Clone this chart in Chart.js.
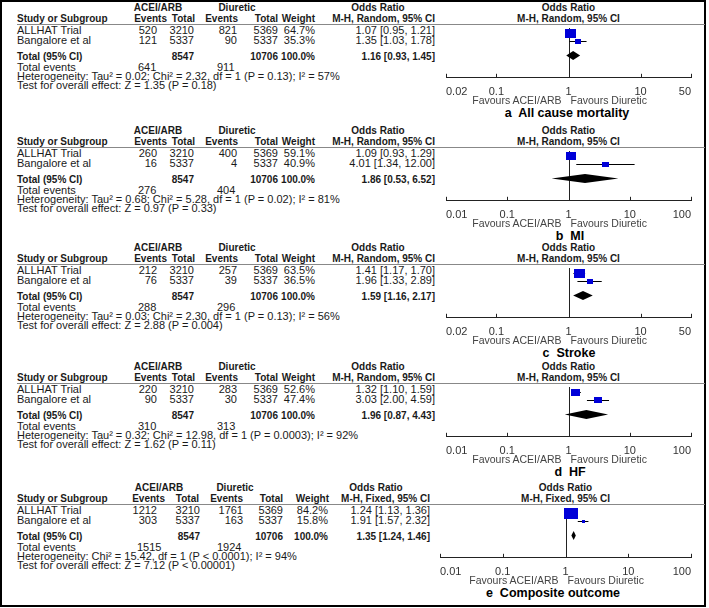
<!DOCTYPE html>
<html><head><meta charset="utf-8">
<script src="https://cdn.jsdelivr.net/npm/chart.js@4.4.1/dist/chart.umd.min.js"></script>
<style>
html,body{margin:0;padding:0;background:#fff;}
#root{position:relative;width:709px;height:608px;overflow:hidden;font-family:"Liberation Sans",Arial,sans-serif;color:#1a1a1a;}
#frame{position:absolute;left:0;top:0;width:706px;height:607px;box-sizing:border-box;border:2px solid #000;}
.t{position:absolute;white-space:pre;line-height:12px;height:12px;font-size:11px;}
.b{font-weight:bold;font-size:10px;}
.ttl{font-weight:bold;font-size:12.5px;color:#000;line-height:16px;height:16px;}
.fav{font-size:10.5px;color:#444;}
.sep{position:absolute;height:1px;background:#888;}
canvas{position:absolute;}
</style></head><body><div id="root"><div id="frame"></div></div>
<script>
// ---------- data ----------
const studies = ['ALLHAT Trial', 'Bangalore et al'];
const panelTitles = ['a  All cause mortality', 'b  MI', 'c  Stroke', 'd  HF', 'e  Composite outcome'];
const methods = ['M-H, Random, 95% CI', 'M-H, Random, 95% CI', 'M-H, Random, 95% CI', 'M-H, Random, 95% CI', 'M-H, Fixed, 95% CI'];
const acEvents = [[520, 121], [260, 16], [212, 76], [220, 90], [1212, 303]];
const acTotal = [[3210, 5337], [3210, 5337], [3210, 5337], [3210, 5337], [3210, 5337]];
const diEvents = [[821, 90], [400, 4], [257, 39], [283, 30], [1761, 163]];
const diTotal = [[5369, 5337], [5369, 5337], [5369, 5337], [5369, 5337], [5369, 5337]];
const weights = [[64.7, 35.3], [59.1, 40.9], [63.5, 36.5], [52.6, 47.4], [84.2, 15.8]];
const oddsRatio = [[1.07, 1.35], [1.09, 4.01], [1.41, 1.96], [1.32, 3.03], [1.24, 1.91]];
const ciLow = [[0.95, 1.03], [0.93, 1.34], [1.17, 1.33], [1.10, 2.00], [1.13, 1.57]];
const ciHigh = [[1.21, 1.78], [1.29, 12.00], [1.70, 2.89], [1.59, 4.59], [1.36, 2.32]];
const pooledOR = [1.16, 1.86, 1.59, 1.96, 1.35];
const pooledLow = [0.93, 0.53, 1.16, 0.87, 1.24];
const pooledHigh = [1.45, 6.52, 2.17, 4.43, 1.46];
const sumAcTotal = [8547, 8547, 8547, 8547, 8547];
const sumDiTotal = [10706, 10706, 10706, 10706, 10706];
const totalAcEvents = [641, 276, 288, 310, 1515];
const totalDiEvents = [911, 404, 296, 313, 1924];
const heterogeneity = [
  'Heterogeneity: Tau² = 0.02; Chi² = 2.32, df = 1 (P = 0.13); I² = 57%',
  'Heterogeneity: Tau² = 0.68; Chi² = 5.28, df = 1 (P = 0.02); I² = 81%',
  'Heterogeneity: Tau² = 0.03; Chi² = 2.30, df = 1 (P = 0.13); I² = 56%',
  'Heterogeneity: Tau² = 0.32; Chi² = 12.98, df = 1 (P = 0.0003); I² = 92%',
  'Heterogeneity: Chi² = 15.42, df = 1 (P < 0.0001); I² = 94%'
];
const overallTest = [
  'Test for overall effect: Z = 1.35 (P = 0.18)',
  'Test for overall effect: Z = 0.97 (P = 0.33)',
  'Test for overall effect: Z = 2.88 (P = 0.004)',
  'Test for overall effect: Z = 1.62 (P = 0.11)',
  'Test for overall effect: Z = 7.12 (P < 0.00001)'
];
const tickValues = [[0.02, 0.1, 1, 10, 50], [0.01, 0.1, 1, 10, 100], [0.02, 0.1, 1, 10, 50], [0.01, 0.1, 1, 10, 100], [0.01, 0.1, 1, 10, 100]];
const tickLabels = [['0.02', '0.1', '1', '10', '50'], ['0.01', '0.1', '1', '10', '100'], ['0.02', '0.1', '1', '10', '50'], ['0.01', '0.1', '1', '10', '100'], ['0.01', '0.1', '1', '10', '100']];
const favourLabels = ['Favours ACEI/ARB', 'Favours Diuretic'];

// ---------- layout ----------
const panelTop = [8, 131, 248, 367, 488];
const axisLeft = [446, 446, 446, 446, 440];
const axisRight = 691;
const titleCenter = [567, 570, 569, 570, 553];
const colsStd = {evA:157, totA:194, evD:237, totD:278, wt:315, or:435, hEvA:167, hTotA:195, hEvD:238, hTotD:278, hWt:315, grpA:158, grpD:237, grpOR:378, teA:138, teD:217};
const colsE = {evA:157, totA:200, evD:243, totD:283, wt:328, or:430, hEvA:165, hTotA:199, hEvD:243, hTotD:283, hWt:329, grpA:159, grpD:235, grpOR:376, teA:137, teD:217};
const rowY = [1, 2];
const pooledRow = 3.75;
const blue = '#0000d8';

const root = document.getElementById('root');
function txt(s, x, y, align, cls) {
  const d = document.createElement('div');
  d.className = 't' + (cls ? ' ' + cls : '');
  d.textContent = s;
  const h = cls && cls.indexOf('ttl') >= 0 ? 16 : 12;
  d.style.top = (y - h / 2) + 'px';
  if (align === 'r') { d.style.left = (x - 300) + 'px'; d.style.width = '300px'; d.style.textAlign = 'right'; }
  else if (align === 'c') { d.style.left = (x - 200) + 'px'; d.style.width = '400px'; d.style.textAlign = 'center'; }
  else { d.style.left = x + 'px'; }
  root.appendChild(d);
  return d;
}
function fmt(v) { return v.toFixed(2); }
function makeSquare(w) {
  const c = document.createElement('canvas');
  const sw = Math.max(3, Math.round(w * 0.17));
  const sh = Math.max(3, Math.round(sw * 0.78));
  c.width = sw; c.height = sh;
  const g = c.getContext('2d');
  g.fillStyle = blue; g.fillRect(0, 0, sw, sh);
  return c;
}

function forestPlugin(p) {
  return {
    id: 'forest' + p,
    beforeDatasetsDraw(chart) {
      const {ctx, chartArea, scales: {x, y}} = chart;
      ctx.save();
      ctx.strokeStyle = '#222'; ctx.lineWidth = 1;
      const x1 = Math.round(x.getPixelForValue(1)) + 0.5;
      ctx.beginPath(); ctx.moveTo(x1, chartArea.top); ctx.lineTo(x1, chartArea.bottom); ctx.stroke();
      ctx.strokeStyle = '#000';
      ciLow[p].forEach((lo, i) => {
        const yy = Math.round(y.getPixelForValue(rowY[i])) + 0.5;
        ctx.beginPath();
        ctx.moveTo(x.getPixelForValue(lo), yy);
        ctx.lineTo(x.getPixelForValue(ciHigh[p][i]), yy);
        ctx.stroke();
      });
      ctx.restore();
    },
    afterDatasetsDraw(chart) {
      const {ctx, chartArea, scales: {x, y}} = chart;
      ctx.save();
      const yy = y.getPixelForValue(pooledRow);
      const hh = 4.5;
      ctx.fillStyle = '#000';
      ctx.beginPath();
      ctx.moveTo(x.getPixelForValue(pooledLow[p]), yy);
      ctx.lineTo(x.getPixelForValue(pooledOR[p]), yy - hh);
      ctx.lineTo(x.getPixelForValue(pooledHigh[p]), yy);
      ctx.lineTo(x.getPixelForValue(pooledOR[p]), yy + hh);
      ctx.closePath(); ctx.fill();
      ctx.strokeStyle = '#222'; ctx.lineWidth = 1;
      const ay = chartArea.bottom;
      tickValues[p].forEach(v => {
        const px = Math.round(x.getPixelForValue(v)) + 0.5;
        ctx.beginPath(); ctx.moveTo(px, ay); ctx.lineTo(px, ay - 4); ctx.stroke();
      });
      ctx.restore();
    }
  };
}

const canvasLeft = 430, canvasWidth = 275, canvasHeight = 75;

for (let p = 0; p < 5; p++) {
  const H = panelTop[p];
  const S = H + 16;
  const C = p === 4 ? colsE : colsStd;
  // group headers
  txt('ACEI/ARB', C.grpA, H, 'c', 'b');
  txt('Diuretic', C.grpD, H, 'c', 'b');
  txt('Odds Ratio', C.grpOR, H, 'c', 'b');
  const plotCenter = (axisLeft[p] + axisRight) / 2;
  txt('Odds Ratio', plotCenter, H, 'c', 'b');
  // column headers
  const hy = H + 11;
  txt('Study or Subgroup', 17, hy, 'l', 'b');
  txt('Events', C.hEvA, hy, 'r', 'b');
  txt('Total', C.hTotA, hy, 'r', 'b');
  txt('Events', C.hEvD, hy, 'r', 'b');
  txt('Total', C.hTotD, hy, 'r', 'b');
  txt('Weight', C.hWt, hy, 'r', 'b');
  txt(methods[p], C.or, hy, 'r', 'b');
  txt(methods[p], plotCenter, hy, 'c', 'b');
  // separator
  const sep = document.createElement('div');
  sep.className = 'sep'; sep.style.left = '17px'; sep.style.width = '688px'; sep.style.top = S + 'px';
  root.appendChild(sep);
  // study rows
  for (let i = 0; i < 2; i++) {
    const y = H + 22 + i * 10;
    txt(studies[i], 17, y, 'l');
    txt(String(acEvents[p][i]), C.evA, y, 'r');
    txt(String(acTotal[p][i]), C.totA, y, 'r');
    txt(String(diEvents[p][i]), C.evD, y, 'r');
    txt(String(diTotal[p][i]), C.totD, y, 'r');
    txt(weights[p][i].toFixed(1) + '%', C.wt, y, 'r');
    txt(fmt(oddsRatio[p][i]) + ' [' + fmt(ciLow[p][i]) + ', ' + fmt(ciHigh[p][i]) + ']', C.or, y, 'r');
  }
  // total row
  const yt = H + 49;
  txt('Total (95% CI)', 17, yt, 'l', 'b');
  txt(String(sumAcTotal[p]), C.totA, yt, 'r', 'b');
  txt(String(sumDiTotal[p]), C.totD, yt, 'r', 'b');
  txt('100.0%', C.wt, yt, 'r', 'b');
  txt(fmt(pooledOR[p]) + ' [' + fmt(pooledLow[p]) + ', ' + fmt(pooledHigh[p]) + ']', C.or, yt, 'r', 'b');
  txt('Total events', 17, H + 59, 'l');
  txt(String(totalAcEvents[p]), C.teA, H + 59, 'l');
  txt(String(totalDiEvents[p]), C.teD, H + 59, 'l');
  txt(heterogeneity[p], 17, H + 68, 'l');
  txt(overallTest[p], 17, H + 77, 'l');
  txt(panelTitles[p], titleCenter[p], H + 105, 'c', 'ttl');

  // chart
  const cv = document.createElement('canvas');
  cv.width = canvasWidth; cv.height = canvasHeight;
  cv.style.left = canvasLeft + 'px'; cv.style.top = S + 'px';
  cv.style.width = canvasWidth + 'px'; cv.style.height = canvasHeight + 'px';
  root.appendChild(cv);
  const chart = new Chart(cv.getContext('2d'), {
    type: 'scatter',
    data: {
      datasets: [{
        data: oddsRatio[p].map((v, i) => ({x: v, y: rowY[i]})),
        pointStyle: weights[p].map(w => makeSquare(w)),
        pointRadius: 3,
        backgroundColor: blue,
        borderWidth: 0
      }]
    },
    options: {
      responsive: false, maintainAspectRatio: false, animation: false,
      devicePixelRatio: 1,
      layout: {padding: {left: axisLeft[p] - canvasLeft, right: canvasLeft + canvasWidth - axisRight, top: 0, bottom: 0}},
      plugins: {legend: {display: false}, tooltip: {enabled: false}},
      events: [],
      scales: {
        x: {
          type: 'logarithmic',
          min: tickValues[p][0], max: tickValues[p][tickValues[p].length - 1],
          afterBuildTicks: s => { s.ticks = tickValues[p].map(v => ({value: v})); },
          ticks: {
            autoSkip: false, maxRotation: 0, padding: 0, align: 'inner',
            color: '#333', font: {family: '"Liberation Sans", Arial, sans-serif', size: 11},
            callback: (v, idx) => tickLabels[p][idx]
          },
          grid: {display: false},
          border: {display: true, color: '#222', width: 1}
        },
        y: {type: 'linear', reverse: true, min: 0.35, max: 6.53, display: false}
      }
    },
    plugins: [forestPlugin(p)]
  });
  const x1 = canvasLeft + chart.scales.x.getPixelForValue(1);
  txt(favourLabels[0], x1 - 7, H + 92, 'r', 'fav');
  txt(favourLabels[1], x1 + 2, H + 92, 'l', 'fav');
}
</script></body></html>
